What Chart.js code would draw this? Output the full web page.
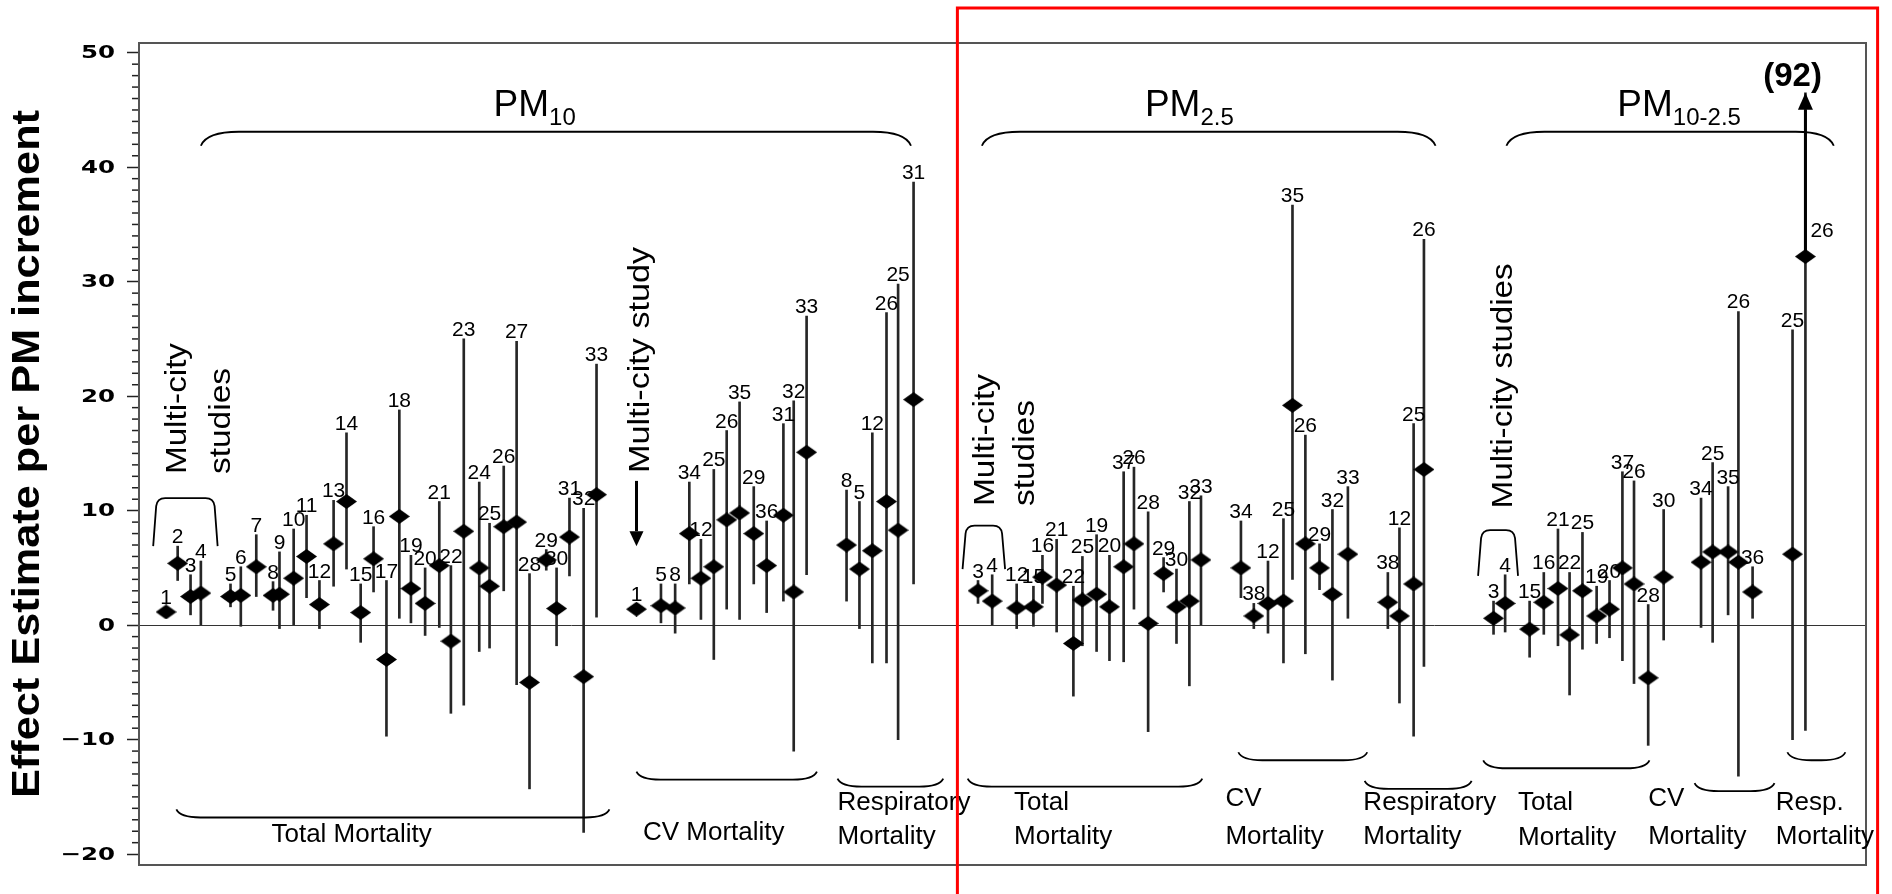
<!DOCTYPE html>
<html>
<head>
<meta charset="utf-8">
<script src="https://cdn.jsdelivr.net/npm/chart.js@4.4.1/dist/chart.umd.min.js"></script>
<style>
  html, body { margin: 0; padding: 0; background: #fff; }
  canvas { display: block; }
</style>
</head>
<body>
<canvas id="chart" width="1892" height="894"></canvas>
<script>
// ---- data ----
// x = slot along the study axis, est = effect estimate, lo/hi = confidence limits
const pm10Ids = [1, 2, 3, 4, 5, 6, 7, 8, 9, 10, 11, 12, 13, 14, 15, 16, 17, 18, 19, 20, 21, 22, 23, 24, 25, 26, 27, 28, 29, 30, 31, 32, 33,
  1, 5, 8, 34, 12, 25, 26, 35, 29, 36, 31, 32, 33,
  8, 5, 12, 26, 25, 31];
const pm10X = [2.1, 3.0, 4.0, 4.8, 7.1, 7.9, 9.1, 10.4, 10.9, 12.0, 13.0, 14.0, 15.1, 16.1, 17.2, 18.2, 19.2, 20.2, 21.1, 22.2, 23.3, 24.2, 25.2, 26.4, 27.2, 28.3, 29.3, 30.3, 31.6, 32.4, 33.4, 34.5, 35.5,
  38.6, 40.5, 41.6, 42.7, 43.6, 44.6, 45.6, 46.6, 47.7, 48.7, 50.0, 50.8, 51.8,
  54.9, 55.9, 56.9, 58.0, 58.9, 60.1];
const pm10Est = [1.15, 5.4, 2.5, 2.8, 2.5, 2.6, 5.1, 2.6, 2.7, 4.1, 6.0, 1.8, 7.1, 10.8, 1.1, 5.8, -3.0, 9.5, 3.2, 1.9, 5.2, -1.4, 8.2, 5.0, 3.4, 8.6, 9.0, -5.0, 5.7, 1.45, 7.7, -4.5, 11.4,
  1.4, 1.7, 1.5, 8.0, 4.1, 5.1, 9.2, 9.8, 8.0, 5.2, 9.6, 2.9, 15.1,
  7.0, 4.9, 6.5, 10.8, 8.3, 19.7];
const pm10Lo = [1.15, 3.9, 0.9, 0.0, 1.6, -0.1, 2.5, 1.3, -0.3, 0.0, 2.4, -0.3, 3.4, 4.9, -1.5, 2.9, -9.7, 0.6, 0.2, -0.9, -0.2, -7.7, -7.0, -2.3, -2.0, 3.0, -5.2, -14.3, 4.8, -1.8, 4.3, -18.1, 0.7,
  1.4, 0.2, -0.7, 3.6, 0.5, -3.0, 1.4, 0.5, 3.6, 1.1, 2.1, -11.0, 4.4,
  2.1, -0.3, -3.3, -3.3, -10.0, 3.6];
const pm10Hi = [1.15, 6.9, 4.4, 5.6, 3.6, 5.1, 7.9, 3.8, 6.4, 8.4, 9.6, 3.9, 10.9, 16.8, 3.6, 8.6, 3.9, 18.8, 6.1, 5.0, 10.8, 5.2, 25.0, 12.5, 8.9, 13.9, 24.8, 4.5, 6.6, 5.0, 11.1, 10.2, 22.8,
  1.4, 3.6, 3.6, 12.5, 7.5, 13.6, 17.0, 19.5, 12.1, 9.1, 17.6, 19.6, 27.0,
  11.8, 10.8, 16.8, 27.3, 29.8, 38.7];

const pm25Ids = [3, 4, 12, 15, 16, 21, 22, 25, 19, 20, 37, 26, 28, 29, 30, 32, 33,
  34, 38, 12, 25, 35, 26, 29, 32, 33,
  38, 12, 25, 26];
const pm25X = [65.1, 66.2, 68.1, 69.4, 70.1, 71.2, 72.5, 73.2, 74.3, 75.3, 76.4, 77.2, 78.3, 79.5, 80.5, 81.5, 82.4,
  85.5, 86.5, 87.6, 88.8, 89.5, 90.5, 91.6, 92.6, 93.8,
  96.9, 97.8, 98.9, 99.7];
const pm25Est = [3.0, 2.1, 1.5, 1.6, 4.2, 3.5, -1.6, 2.2, 2.7, 1.6, 5.1, 7.1, 0.15, 4.5, 1.6, 2.1, 5.7,
  5.0, 0.8, 1.9, 2.1, 19.2, 7.1, 5.0, 2.7, 6.2,
  2.0, 0.8, 3.6, 13.6];
const pm25Lo = [1.9, 0.0, -0.3, -0.1, 1.9, -0.6, -6.2, -1.8, -2.3, -3.1, -3.2, 1.4, -9.3, 2.9, -1.6, -5.3, 0.0,
  2.4, -0.3, -0.7, -3.3, 4.0, -2.5, 3.1, -4.8, 0.6,
  -0.3, -6.8, -9.7, -3.6];
const pm25Hi = [3.9, 4.4, 3.6, 3.4, 6.1, 7.5, 3.4, 6.0, 7.9, 6.1, 13.4, 13.8, 9.9, 5.9, 4.9, 10.8, 11.3,
  9.1, 1.9, 5.6, 9.3, 36.7, 16.6, 7.1, 10.1, 12.1,
  4.6, 8.5, 17.6, 33.7];

const pmcIds = [3, 4, 15, 16, 21, 22, 25, 19, 20, 37, 26, 28, 30,
  34, 25, 35, 26, 36,
  25, 26];
const pmcX = [105.1, 106.0, 107.9, 109.0, 110.1, 111.0, 112.0, 113.1, 114.1, 115.1, 116.0, 117.1, 118.3,
  121.2, 122.1, 123.3, 124.1, 125.2,
  128.3, 129.3];
const pmcEst = [0.6, 1.9, -0.35, 2.0, 3.2, -0.85, 3.0, 0.8, 1.4, 5.0, 3.6, -4.6, 4.2,
  5.5, 6.4, 6.4, 5.5, 2.9,
  6.2, 32.2];
const pmcLo = [-0.8, -0.6, -2.8, -0.8, -1.8, -6.1, -2.1, -1.6, -1.1, -3.1, -5.1, -10.5, -1.3,
  -0.2, -1.5, 0.9, -13.2, 0.6,
  -10.0, -9.2];
const pmcHi = [2.1, 4.4, 2.1, 4.6, 8.4, 4.6, 8.1, 3.4, 3.9, 13.4, 12.6, 1.8, 10.1,
  11.1, 14.2, 12.1, 27.4, 5.1,
  25.8, 92];

const yTicks = [-20, -10, 0, 10, 20, 30, 40, 50];
const yTitle = 'Effect Estimate per PM increment';

// ---- annotation layout (axis units) ----
const arrowTop = 46.5;       // where the off-scale interval is cut with an arrow
const topBraces = [
  { from: 4.8, to: 59.9, y: 43.1, sub: '10', labelX: 30.7 },
  { from: 65.4, to: 100.6, y: 43.1, sub: '2.5', labelX: 81.5 },
  { from: 106.1, to: 131.5, y: 43.1, sub: '10-2.5', labelX: 119.5 }
];
const bottomBraces = [
  { from: 2.9, to: 36.5, y: -16.8, textX: 16.5, center: true, lines: [['Total Mortality', -18.3]] },
  { from: 38.6, to: 52.6, y: -13.5, textX: 39.1, lines: [['CV Mortality', -18.1]] },
  { from: 54.2, to: 62.4, y: -14.1, textX: 54.2, lines: [['Respiratory', -15.5], ['Mortality', -18.5]] },
  { from: 64.3, to: 82.5, y: -14.1, textX: 67.9, lines: [['Total', -15.5], ['Mortality', -18.5]] },
  { from: 85.3, to: 95.3, y: -11.8, textX: 84.3, lines: [['CV', -15.2], ['Mortality', -18.5]] },
  { from: 95.1, to: 103.4, y: -14.3, textX: 95.0, lines: [['Respiratory', -15.5], ['Mortality', -18.5]] },
  { from: 104.3, to: 117.2, y: -12.5, textX: 107.0, lines: [['Total', -15.5], ['Mortality', -18.6]] },
  { from: 120.7, to: 126.9, y: -14.5, textX: 117.1, lines: [['CV', -15.2], ['Mortality', -18.5]] },
  { from: 127.9, to: 132.4, y: -11.8, textX: 127.0, lines: [['Resp.', -15.5], ['Mortality', -18.5]] }
];
const multiBrackets = [
  { from: 1.1, to: 6.1, top: 11.1, end: 6.9 },
  { from: 63.9, to: 67.2, top: 8.7, end: 4.9 },
  { from: 103.9, to: 107.0, top: 8.3, end: 4.3 }
];
const rotatedNotes = [
  { text: 'Multi-city', x: 3.0, y: 13.2, len: 131 },
  { text: 'studies', x: 6.4, y: 13.2, len: 106 },
  { text: 'Multi-city study', x: 38.9, y: 13.3, len: 226 },
  { text: 'Multi-city', x: 65.7, y: 10.4, len: 132 },
  { text: 'studies', x: 68.8, y: 10.4, len: 106 },
  { text: 'Multi-city studies', x: 105.9, y: 10.2, len: 245 }
];
const studyArrow = { x: 38.6, from: 12.6, to: 6.9 };
const offScaleNote = { text: '(92)', x: 128.3, y: 47.9 };
const highlightBox = { left: 63.5, top: 53.9, right: 134.9 };

const FONT = '"Liberation Sans", Arial, sans-serif';

function buildPoints() {
  const sets = [
    [pm10Ids, pm10X, pm10Est, pm10Lo, pm10Hi],
    [pm25Ids, pm25X, pm25Est, pm25Lo, pm25Hi],
    [pmcIds, pmcX, pmcEst, pmcLo, pmcHi]
  ];
  const pts = [];
  sets.forEach(([ids, xs, est, lo, hi]) => {
    ids.forEach((id, i) => pts.push({ id: id, x: xs[i], est: est[i], lo: lo[i], hi: hi[i] }));
  });
  return pts;
}
const points = buildPoints();

function makeDiamond(w, h) {
  const c = document.createElement('canvas');
  c.width = w; c.height = h;
  const g = c.getContext('2d');
  g.fillStyle = '#000';
  g.beginPath();
  g.moveTo(w / 2, 0); g.lineTo(w, h / 2); g.lineTo(w / 2, h); g.lineTo(0, h / 2);
  g.closePath();
  g.fill();
  return c;
}

// text helper: optional rotation, horizontal stretch to a target length, left/center/right anchor
function drawText(ctx, text, x, y, o) {
  ctx.save();
  ctx.font = o.font;
  ctx.fillStyle = '#000';
  ctx.textBaseline = o.baseline || 'middle';
  ctx.textAlign = 'left';
  ctx.translate(x, y);
  if (o.rotate) ctx.rotate(-Math.PI / 2);
  const w = ctx.measureText(text).width;
  const k = o.len ? o.len / w : (o.stretch || 1);
  ctx.scale(k, 1);
  let sx = 0;
  if (o.center) sx = -w / 2;
  if (o.right) sx = -w;
  ctx.fillText(text, sx, 0);
  ctx.restore();
}

function brace(ctx, x0, x1, y, dir, cw, ch) {
  ctx.beginPath();
  ctx.moveTo(x0, y + dir * ch);
  ctx.quadraticCurveTo(x0 + cw * 0.15, y, x0 + cw, y);
  ctx.lineTo(x1 - cw, y);
  ctx.quadraticCurveTo(x1 - cw * 0.15, y, x1, y + dir * ch);
  ctx.stroke();
}

function arrow(ctx, x, y0, y1, lw, hw, hh) {
  const dir = y1 < y0 ? -1 : 1;
  ctx.lineWidth = lw;
  ctx.beginPath();
  ctx.moveTo(x, y0);
  ctx.lineTo(x, y1 - dir * hh);
  ctx.stroke();
  ctx.beginPath();
  ctx.moveTo(x, y1);
  ctx.lineTo(x - hw / 2, y1 - dir * hh);
  ctx.lineTo(x + hw / 2, y1 - dir * hh);
  ctx.closePath();
  ctx.fill();
}

const annotations = {
  id: 'annotations',
  afterDatasetsDraw(chart) {
    const { ctx, chartArea: area, scales: { x, y } } = chart;
    const px = v => x.getPixelForValue(v);
    const py = v => y.getPixelForValue(v);
    ctx.save();
    ctx.strokeStyle = '#000';
    ctx.fillStyle = '#000';

    // minor ticks, one per unit
    ctx.strokeStyle = '#222';
    ctx.lineWidth = 1.5;
    for (let v = Math.ceil(y.min); v <= y.max; v++) {
      if (v % 10 === 0) continue;
      const yy = py(v);
      ctx.beginPath();
      ctx.moveTo(area.left - 7, yy);
      ctx.lineTo(area.left, yy);
      ctx.stroke();
    }

    // wide bold tick labels
    y.ticks.forEach(t => {
      const label = t.value < 0 ? '\u2212' + Math.abs(t.value) : String(t.value);
      drawText(ctx, label, area.left - 24, py(t.value) + 1,
        { font: 'bold 18px "DejaVu Sans"', right: true, stretch: 1.36 });
    });

    // frame
    ctx.strokeStyle = '#555';
    ctx.lineWidth = 2;
    ctx.strokeRect(area.left, area.top, area.right - area.left, area.bottom - area.top);

    // axis title
    drawText(ctx, yTitle, y.left + 29, (area.top + area.bottom) / 2,
      { font: 'bold 38px ' + FONT, rotate: true, center: true, len: 688 });

    // study number labels
    ctx.fillStyle = '#000';
    ctx.font = '21px ' + FONT;
    ctx.textAlign = 'center';
    ctx.textBaseline = 'alphabetic';
    points.forEach(p => {
      const xx = px(p.x);
      if (p.hi > arrowTop) {
        ctx.textAlign = 'left';
        ctx.fillText(String(p.id), xx + 5, py(p.est) - 20);
        ctx.textAlign = 'center';
        return;
      }
      const ly = Math.min(py(p.hi) - 3, py(p.est) - 8);
      ctx.fillText(String(p.id), xx, ly);
    });

    // off-scale upper limit arrow
    ctx.strokeStyle = '#000';
    points.filter(p => p.hi > arrowTop).forEach(p => {
      arrow(ctx, px(p.x), py(p.est), py(arrowTop), 3, 15, 17);
    });
    drawText(ctx, offScaleNote.text, px(offScaleNote.x), py(offScaleNote.y),
      { font: 'bold 33px ' + FONT, center: true });

    // top braces with PM labels
    ctx.lineWidth = 1.8;
    topBraces.forEach(b => {
      brace(ctx, px(b.from), px(b.to), py(b.y), 1, 38, 14);
      ctx.font = '37px ' + FONT;
      const w1 = ctx.measureText('PM').width;
      ctx.font = '24px ' + FONT;
      const w2 = ctx.measureText(b.sub).width;
      const left = px(b.labelX) - (w1 + w2) / 2;
      const base = py(44.45);
      ctx.textAlign = 'left';
      ctx.textBaseline = 'alphabetic';
      ctx.font = '37px ' + FONT;
      ctx.fillText('PM', left, base);
      ctx.font = '24px ' + FONT;
      ctx.fillText(b.sub, left + w1, base + 9);
    });

    // bottom braces with outcome labels
    bottomBraces.forEach(b => {
      ctx.lineWidth = 1.8;
      brace(ctx, px(b.from), px(b.to), py(b.y), -1, 24, 8);
      b.lines.forEach(([t, ty]) => {
        drawText(ctx, t, px(b.textX), py(ty), { font: '26px ' + FONT, center: !!b.center });
      });
    });

    // multi-city brackets
    ctx.lineWidth = 1.8;
    multiBrackets.forEach(b => {
      const x0 = px(b.from), x1 = px(b.to), yt = py(b.top), ye = py(b.end);
      ctx.beginPath();
      ctx.moveTo(x0, ye);
      ctx.lineTo(x0 + 3, yt + 8);
      ctx.quadraticCurveTo(x0 + 4, yt, x0 + 12, yt);
      ctx.lineTo(x1 - 12, yt);
      ctx.quadraticCurveTo(x1 - 4, yt, x1 - 3, yt + 8);
      ctx.lineTo(x1, ye);
      ctx.stroke();
    });

    rotatedNotes.forEach(n => {
      drawText(ctx, n.text, px(n.x), py(n.y), { font: '30px ' + FONT, rotate: true, len: n.len });
    });
    arrow(ctx, px(studyArrow.x), py(studyArrow.from), py(studyArrow.to), 3, 14, 15);

    ctx.restore();
  },
  afterDraw(chart) {
    const { ctx, scales: { x, y } } = chart;
    ctx.save();
    ctx.strokeStyle = '#ff0000';
    ctx.lineWidth = 3;
    ctx.beginPath();
    ctx.moveTo(x.getPixelForValue(highlightBox.left), chart.height + 5);
    ctx.lineTo(x.getPixelForValue(highlightBox.left), y.getPixelForValue(highlightBox.top));
    ctx.lineTo(x.getPixelForValue(highlightBox.right), y.getPixelForValue(highlightBox.top));
    ctx.lineTo(x.getPixelForValue(highlightBox.right), chart.height + 5);
    ctx.stroke();
    ctx.restore();
  }
};

const diamond = makeDiamond(21, 15);

new Chart(document.getElementById('chart'), {
  type: 'scatter',
  data: {
    datasets: [
      {
        label: 'Estimate',
        data: points.map(p => ({ x: p.x, y: p.est })),
        pointStyle: diamond,
        pointRadius: 9,
        showLine: false
      },
      {
        type: 'bar',
        label: 'Interval',
        data: points.filter(p => p.hi > p.lo).map(p => ({ x: p.x, y: [p.lo, Math.min(p.hi, arrowTop)] })),
        backgroundColor: '#262626',
        borderWidth: 0,
        barThickness: 2
      }
    ]
  },
  options: {
    responsive: false,
    animation: false,
    devicePixelRatio: 1,
    layout: { padding: { left: 0, top: 43, right: 26, bottom: 29 } },
    plugins: { legend: { display: false }, tooltip: { enabled: false }, title: { display: false } },
    scales: {
      x: { type: 'linear', min: 0, max: 134, offset: false, display: false, grid: { offset: false } },
      y: {
        type: 'linear',
        min: -20.95,
        max: 50.85,
        afterFit: s => { s.width = 139; },
        afterBuildTicks: s => { s.ticks = yTicks.map(v => ({ value: v })); },
        ticks: { display: false, autoSkip: false },
        grid: {
          color: c => (c.tick && c.tick.value === 0 ? '#333' : 'rgba(0,0,0,0)'),
          lineWidth: 1,
          tickLength: 12,
          tickColor: '#222',
          tickWidth: 1.5
        },
        border: { display: true, color: '#555', width: 2 }
      }
    }
  },
  plugins: [annotations]
});
</script>
</body>
</html>
